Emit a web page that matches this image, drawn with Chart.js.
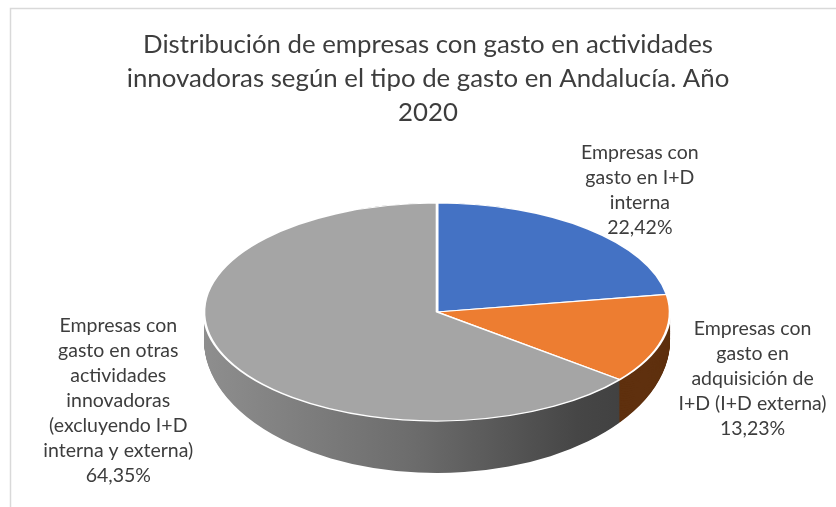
<!DOCTYPE html>
<html>
<head>
<meta charset="utf-8">
<script src="https://cdn.jsdelivr.net/npm/chart.js@4"></script>
<style>
  html, body { margin: 0; padding: 0; background: #fff; }
  #wrap { width: 836px; height: 507px; position: relative; }
</style>
</head>
<body>
<div id="wrap"><canvas id="pie"></canvas></div>
<script>
// — datos —
const categories = [
  'Empresas con gasto en I+D interna',
  'Empresas con gasto en adquisición de I+D (I+D externa)',
  'Empresas con gasto en otras actividades innovadoras (excluyendo I+D interna y externa)'
];
const shares = [22.42, 13.23, 64.35];
const labelLines = [
  ['Empresas con', 'gasto en I+D', 'interna'],
  ['Empresas con', 'gasto en', 'adquisición de', 'I+D (I+D externa)'],
  ['Empresas con', 'gasto en otras', 'actividades', 'innovadoras', '(excluyendo I+D', 'interna y externa)']
];
const titleLines = [
  'Distribución de empresas con gasto en actividades',
  'innovadoras según el tipo de gasto en Andalucía. Año',
  '2020'
];

// — estilo —
const FONT = 'Lato';
const TEXT = '#3d3d3d';
const topColors  = ['#4472C4', '#ED7D31', '#A5A5A5'];
const sideColors = ['#2b4c86', '#5f300e', null]; // null -> degradado gris

// elipse superior / inferior (perspectiva aproximada)
const CX = 437, CY = 312, RX = 233, RY = 109;
const CYB = 340, RYB = 133;
// desplazamiento de cada etiqueta respecto al borde del sector
const labelOffsets = [[52, -39], [90, 39], [-109, 41]];

function pct(v) { return v.toFixed(2).replace('.', ',') + '%'; }

function layerTransform(ctx, arc, t) {
  const R = arc.outerRadius;
  const cy = CY + t * (CYB - CY);
  const ry = RY + t * (RYB - RY);
  ctx.translate(CX, cy);
  ctx.scale(RX / R, ry / R);
  ctx.translate(-arc.x, -arc.y);
}

const frame = {
  id: 'frame',
  beforeDraw(chart) {
    const ctx = chart.ctx;
    ctx.save();
    ctx.strokeStyle = '#d9d9d9';
    ctx.lineWidth = 1.5;
    ctx.beginPath();
    ctx.moveTo(10.5, 520);
    ctx.lineTo(10.5, 8.5);
    ctx.lineTo(850, 8.5);
    ctx.stroke();
    ctx.restore();
  }
};

const pie3d = {
  id: 'pie3d',
  beforeDatasetsDraw(chart) {
    const ctx = chart.ctx;
    const arcs = chart.getDatasetMeta(0).data;
    // paredes: capas desde abajo hacia arriba
    const steps = 60;
    for (let s = steps; s >= 1; s--) {
      const t = s / steps;
      arcs.forEach((arc, i) => {
        ctx.save();
        layerTransform(ctx, arc, t);
        let fill = sideColors[i];
        if (!fill) {
          const R = arc.outerRadius;
          fill = ctx.createLinearGradient(arc.x - R, 0, arc.x + R, 0);
          fill.addColorStop(0, '#8e8e8e');
          fill.addColorStop(0.45, '#6c6c6c');
          fill.addColorStop(0.8, '#464646');
          fill.addColorStop(1, '#3c3c3c');
        }
        const saved = arc.options;
        arc.options = Object.assign({}, saved, { backgroundColor: fill, borderWidth: 0 });
        arc.draw(ctx);
        arc.options = saved;
        ctx.restore();
      });
    }
    // cara superior: la dibuja Chart.js con esta transformación
    ctx.save();
    layerTransform(ctx, arcs[0], 0);
  },
  afterDatasetsDraw(chart) {
    const ctx = chart.ctx;
    ctx.restore();
    const arcs = chart.getDatasetMeta(0).data;
    ctx.save();
    ctx.fillStyle = TEXT;
    ctx.font = '19.5px ' + FONT;
    ctx.textAlign = 'center';
    ctx.textBaseline = 'middle';
    const lh = 25;
    arcs.forEach((arc, i) => {
      const mid = (arc.startAngle + arc.endAngle) / 2;
      const px = CX + RX * Math.cos(mid) + labelOffsets[i][0];
      const py = CY + RY * Math.sin(mid) + labelOffsets[i][1];
      const lines = labelLines[i].concat([pct(shares[i])]);
      const y0 = py - (lines.length - 1) * lh / 2;
      lines.forEach((ln, k) => ctx.fillText(ln, px, y0 + k * lh));
    });
    ctx.restore();
  }
};

new Chart(document.getElementById('pie'), {
  type: 'pie',
  data: {
    labels: categories,
    datasets: [{
      data: shares,
      backgroundColor: topColors,
      borderColor: '#ffffff',
      borderWidth: 2,
      clip: false
    }]
  },
  options: {
    responsive: true,
    maintainAspectRatio: false,
    animation: false,
    events: [],
    layout: { padding: { left: 20, top: 8, right: 0, bottom: 10 } },
    plugins: {
      legend: { display: false },
      tooltip: { enabled: false },
      title: {
        display: true,
        text: titleLines,
        color: TEXT,
        font: { family: FONT, size: 25.8, weight: 'normal', lineHeight: 1.32 },
        padding: { top: 20, bottom: 10 }
      }
    }
  },
  plugins: [frame, pie3d]
});
</script>
</body>
</html>
